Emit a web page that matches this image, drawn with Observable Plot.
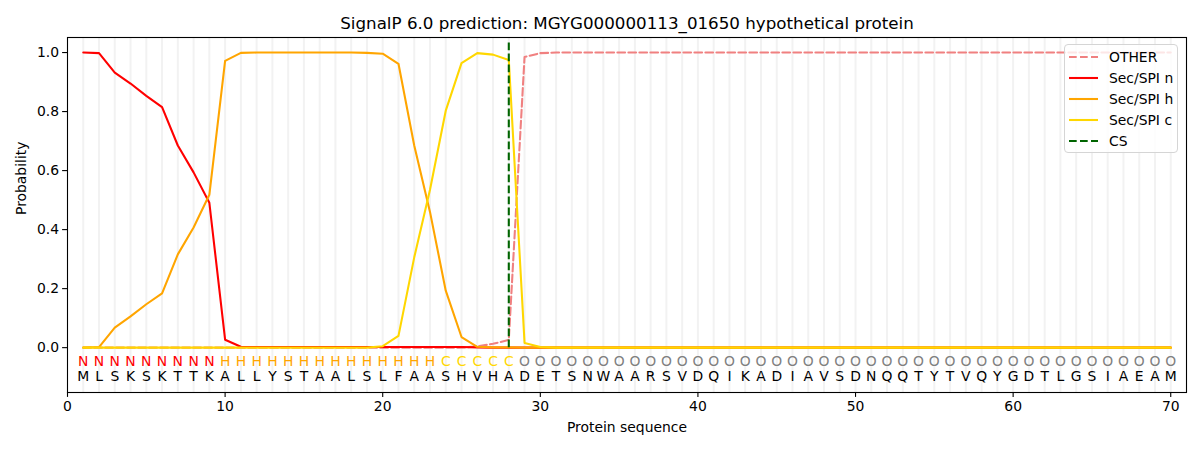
<!DOCTYPE html>
<html>
<head>
<meta charset="utf-8">
<script src="https://cdn.jsdelivr.net/npm/d3@7"></script>
<script src="https://cdn.jsdelivr.net/npm/@observablehq/plot@0.6"></script>
<style>
  body { margin: 0; background: white; font-family: "DejaVu Sans", sans-serif; }
  #wrap { position: relative; width: 1200px; height: 450px; }
  #legend { position: absolute; left: 1064px; top: 44px; width: 112px; height: 107px;
    border: 1px solid #d5d5d5; border-radius: 4px; background: rgba(255,255,255,0.8);
    font-size: 13.9px; color: #000; box-sizing: content-box; }
  .item { position: absolute; left: 4px; height: 20px; display: flex; align-items: center; }
  .item svg { margin-right: 11px; }
</style>
</head>
<body>
<div id="wrap"></div>
<script>
const title = "SignalP 6.0 prediction: MGYG000000113_01650 hypothetical protein";
const sequence = "MLSKSKTTKALLYSTAALSLFAASHVHADETSNWAARSVDQIKADIAVSDNQQTYTVQYGDTLGSIAEAM";
const regions  = "NNNNNNNNNHHHHHHHHHHHHHHCCCCCOOOOOOOOOOOOOOOOOOOOOOOOOOOOOOOOOOOOOOOOOO";
const xTicks = [0, 10, 20, 30, 40, 50, 60, 70];
const yTicks = [0, 0.2, 0.4, 0.6, 0.8, 1.0];

const other = [
  0,0,0,0,0,0,0,0,0,0,
  0,0,0,0,0,0,0,0,0,0,
  0,0,0,0,0,0.004,0.013,0.026,0.985,0.998,
  1,1,1,1,1,1,1,1,1,1,
  1,1,1,1,1,1,1,1,1,1,
  1,1,1,1,1,1,1,1,1,1,
  1,1,1,1,1,1,1,1,1,1];
const secN = [
  1.0,0.998,0.932,0.895,0.853,0.815,0.685,0.594,0.491,0.027,
  0.003,0.002,0.002,0.002,0.002,0.002,0.002,0.002,0.002,0.002,
  0.002,0.002,0.002,0.002,0.002,0.001,0,0,0,0,
  0,0,0,0,0,0,0,0,0,0,
  0,0,0,0,0,0,0,0,0,0,
  0,0,0,0,0,0,0,0,0,0,
  0,0,0,0,0,0,0,0,0,0];
const secH = [
  0,0.002,0.068,0.106,0.147,0.184,0.316,0.407,0.518,0.972,
  0.999,1,1,1,1,1,1,1,0.999,0.996,
  0.962,0.685,0.46,0.193,0.036,0.003,0.001,0.001,0,0,
  0,0,0,0,0,0,0,0,0,0,
  0,0,0,0,0,0,0,0,0,0,
  0,0,0,0,0,0,0,0,0,0,
  0,0,0,0,0,0,0,0,0,0];
const secC = [
  0,0,0,0,0,0,0,0,0,0,
  0,0,0,0,0,0,0,0,0,0.005,
  0.04,0.306,0.535,0.803,0.964,0.998,0.993,0.975,0.016,0.002,
  0,0,0,0,0,0,0,0,0,0,
  0,0,0,0,0,0,0,0,0,0,
  0,0,0,0,0,0,0,0,0,0,
  0,0,0,0,0,0,0,0,0,0];
const csPosition = 28;
const csTop = 1.036;

const DASH = "7.7,3.3";
const series = [
  {name: "OTHER", values: other, color: "#f08080", dash: DASH},
  {name: "Sec/SPI n", values: secN, color: "#ff0000", dash: null},
  {name: "Sec/SPI h", values: secH, color: "#ffa500", dash: null},
  {name: "Sec/SPI c", values: secC, color: "#ffd700", dash: null}
];
const regionColor = {N: "#ff0000", H: "#ffa500", C: "#ffd700", O: "#808080"};

const residues = Array.from(sequence, (aa, i) => ({pos: i + 1, aa, region: regions[i]}));

const lineMarks = series.map(s =>
  Plot.lineY(s.values.map((v, i) => ({pos: i + 1, p: v})), {
    x: "pos", y: "p", stroke: s.color, strokeWidth: 2.08,
    strokeDasharray: s.dash || undefined
  })
);

const chart = Plot.plot({
  width: 1200, height: 450,
  marginLeft: 67, marginRight: 14, marginTop: 37, marginBottom: 58,
  style: {fontFamily: "DejaVu Sans, sans-serif", fontSize: "13.9px", background: "white", color: "black"},
  x: {domain: [0, 71]},
  y: {domain: [-0.152, 1.051]},
  marks: [
    Plot.ruleX(residues, {x: "pos", stroke: "#f2f2f2", strokeWidth: 2}),
    ...lineMarks,
    Plot.ruleX([{x: csPosition, y1: 0, y2: csTop}], {x: "x", y1: "y1", y2: "y2", stroke: "#006400", strokeWidth: 2.08, strokeDasharray: DASH}),
    Plot.text(residues, {x: "pos", y: -0.046, text: "region", fill: d => regionColor[d.region], fontSize: 13.9, lineAnchor: "middle"}),
    Plot.text(residues, {x: "pos", y: -0.097, text: "aa", fill: "#000", fontSize: 13.9, lineAnchor: "middle"}),
    Plot.axisX({ticks: xTicks, tickFormat: d3.format("d"), tickSize: 4.9, tickPadding: 3.5, strokeWidth: 1.1, label: null, fontSize: 13.9}),
    Plot.axisY({ticks: yTicks, tickFormat: d3.format(".1f"), tickSize: 4.9, tickPadding: 3.5, strokeWidth: 1.1, label: null, fontSize: 13.9}),
    Plot.frame({stroke: "black", strokeWidth: 1.1}),
    Plot.text([title], {frameAnchor: "top", dy: -14, text: d => d, fontSize: 16.7, fill: "black", lineAnchor: "middle"}),
    Plot.text(["Protein sequence"], {frameAnchor: "bottom", dy: 35, text: d => d, fontSize: 13.9, fill: "black", lineAnchor: "middle"}),
    Plot.text(["Probability"], {frameAnchor: "left", dx: -46, rotate: -90, text: d => d, fontSize: 13.9, fill: "black", lineAnchor: "middle"})
  ]
});

const wrap = document.getElementById("wrap");
wrap.appendChild(chart);

// legend
const legend = document.createElement("div");
legend.id = "legend";
const legendItems = [...series, {name: "CS", color: "#006400", dash: DASH}];
legendItems.forEach((s, i) => {
  const item = document.createElement("div");
  item.className = "item";
  item.style.top = (2 + i * 21) + "px";
  item.innerHTML = `<svg width="29" height="10"><line x1="0" x2="29" y1="5" y2="5" stroke="${s.color}" stroke-width="2.08" ${s.dash ? `stroke-dasharray="${s.dash}"` : ""}/></svg><span>${s.name}</span>`;
  legend.appendChild(item);
});
wrap.appendChild(legend);
</script>
</body>
</html>
